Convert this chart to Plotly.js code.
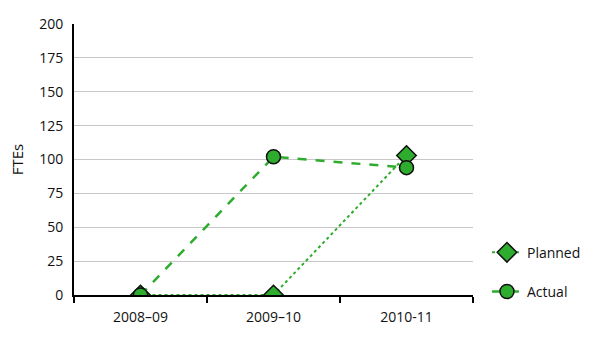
<!DOCTYPE html>
<html><head><meta charset="utf-8">
<script src="https://cdn.plot.ly/plotly-3.0.1.min.js"></script>
<style>body{margin:0}#c{width:598px;height:338px}</style>
</head><body><div id="c"></div>
<script>
const categories = ['2008–09', '2009–10', '2010-11'];
const planned = [0, 0, 103];
const actual = [0, 102, 94];
const yTicks = [0, 25, 50, 75, 100, 125, 150, 175, 200];

const green = '#2eac2e';
const traces = [
  {x: categories, y: planned, name: 'Planned', type: 'scatter', mode: 'lines+markers',
   legendgroup: 'p',
   line: {color: green, dash: 'dot', width: 2},
   marker: {symbol: 'diamond', size: 15, color: green, line: {color: '#111', width: 1.5}}},
  {x: categories, y: actual, name: 'Actual', type: 'scatter', mode: 'lines+markers',
   legendgroup: 'a',
   line: {color: green, dash: 'dash', width: 2.5},
   marker: {symbol: 'circle', size: 14, color: green, line: {color: '#111', width: 1.5}}}
];
const layout = {
  width: 598, height: 338,
  margin: {l: 74, r: 123, t: 24, b: 43},
  paper_bgcolor: '#fff', plot_bgcolor: '#fff',
  font: {family: 'Open Sans, sans-serif', size: 14, color: '#111'},
  showlegend: true,
  legend: {x: 1.035, y: 0.215, xanchor: 'left', yanchor: 'top', tracegroupgap: 18,
           font: {size: 14}, bgcolor: 'rgba(0,0,0,0)'},
  xaxis: {type: 'category', tickson: 'boundaries', ticks: 'outside', ticklen: 6, tickwidth: 2,
          tickcolor: '#000', showline: true, linecolor: '#000', linewidth: 2,
          ticklabelstandoff: 8,
          showgrid: false, zeroline: false, range: [-0.5, 2.5], fixedrange: true},
  yaxis: {range: [0, 200], tickvals: yTicks, showline: true, linecolor: '#000', linewidth: 2,
          gridcolor: '#c8c8c8', gridwidth: 1, zeroline: false, ticks: '',
          ticklabelstandoff: 6,
          title: {text: 'FTEs', font: {size: 15}, standoff: 12}}
};
Plotly.newPlot('c', traces, layout, {staticPlot: true});
</script></body></html>
